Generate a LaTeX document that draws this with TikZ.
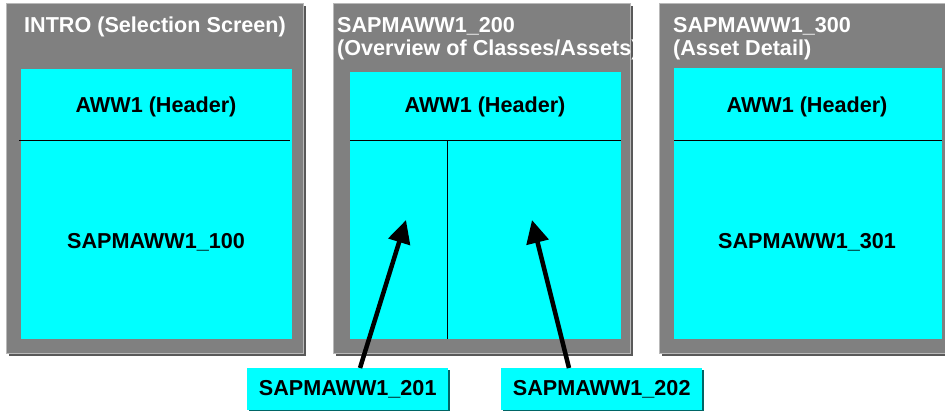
\documentclass[tikz,border=0pt]{standalone}
\usepackage{fontspec}
\setmainfont{Liberation Sans}
\usetikzlibrary{arrows.meta,shadows}
\definecolor{scrcyan}{RGB}{0,255,255}
\definecolor{pangray}{RGB}{128,128,128}

\begin{document}
\begin{tikzpicture}[x=1pt,y=-1pt,
  font=\fontsize{21.6}{23}\selectfont\bfseries,
  panel/.style={draw=pangray!55!white, line width=1pt, fill=pangray, inner sep=0pt,
    anchor=north west, minimum height=350pt,
    drop shadow={shadow xshift=2pt, shadow yshift=-2pt, fill=black!65, opacity=1}},
  screen/.style={fill=scrcyan, inner sep=0pt, anchor=north west,
    minimum width=271pt},
  title/.style={text=white, align=left, inner sep=0pt, anchor=north west},
  lbl/.style={fill=scrcyan, inner sep=0pt, anchor=north west,
    minimum width=201pt, minimum height=42pt,
    drop shadow={shadow xshift=2pt, shadow yshift=-2pt, fill=teal!80!black, opacity=1}},
  pointer/.style={line width=4.5pt, -{Triangle[length=23pt,width=22pt]}}]
  \useasboundingbox (0,0) rectangle (945,410);
  \node[panel, minimum width=297pt] (p100) at (6,3) {};
  \node[panel, minimum width=297pt] (p200) at (333,3) {};
  \node[panel, minimum width=290pt] (p300) at (659,3) {};
  \node[screen, minimum height=270pt] (s100) at (21,69) {};
  \node[screen, minimum height=267pt] (s200) at (350,72) {};
  \node[screen, minimum height=271pt, minimum width=268pt] (s300) at (674,68) {};
  \node[title] (t100) at (24,17) {INTRO (Selection Screen)};
  \node[title] (t200) at (337,17) {SAPMAWW1\_200\\(Overview of Classes/Assets)};
  \node[title] (t300) at (673,17) {SAPMAWW1\_300\\(Asset Detail)};
  \draw[line width=1pt] (19,140) -- (290,140);
  \draw[line width=1pt] (350,140) -- (621,140);
  \draw[line width=1pt] (674,140) -- (942,140);
  \draw[line width=1pt] (447,140) -- (447,339);
  \node (h100) at (156,107) {AWW1 (Header)};
  \node (h200) at (485,107) {AWW1 (Header)};
  \node (h300) at (807,107) {AWW1 (Header)};
  \node (m100) at (156,242) {SAPMAWW1\_100};
  \node (m300) at (807,242) {SAPMAWW1\_301};
  \node[lbl] (l201) at (247,368) {SAPMAWW1\_201};
  \node[lbl] (l202) at (501,368) {SAPMAWW1\_202};
  \coordinate (a201) at (406,220);
  \coordinate (a202) at (532,220);
  \draw[pointer] ([xshift=113pt]l201.north west) -- (a201);
  \draw[pointer] ([xshift=68pt]l202.north west) -- (a202);
\end{tikzpicture}
\end{document}
